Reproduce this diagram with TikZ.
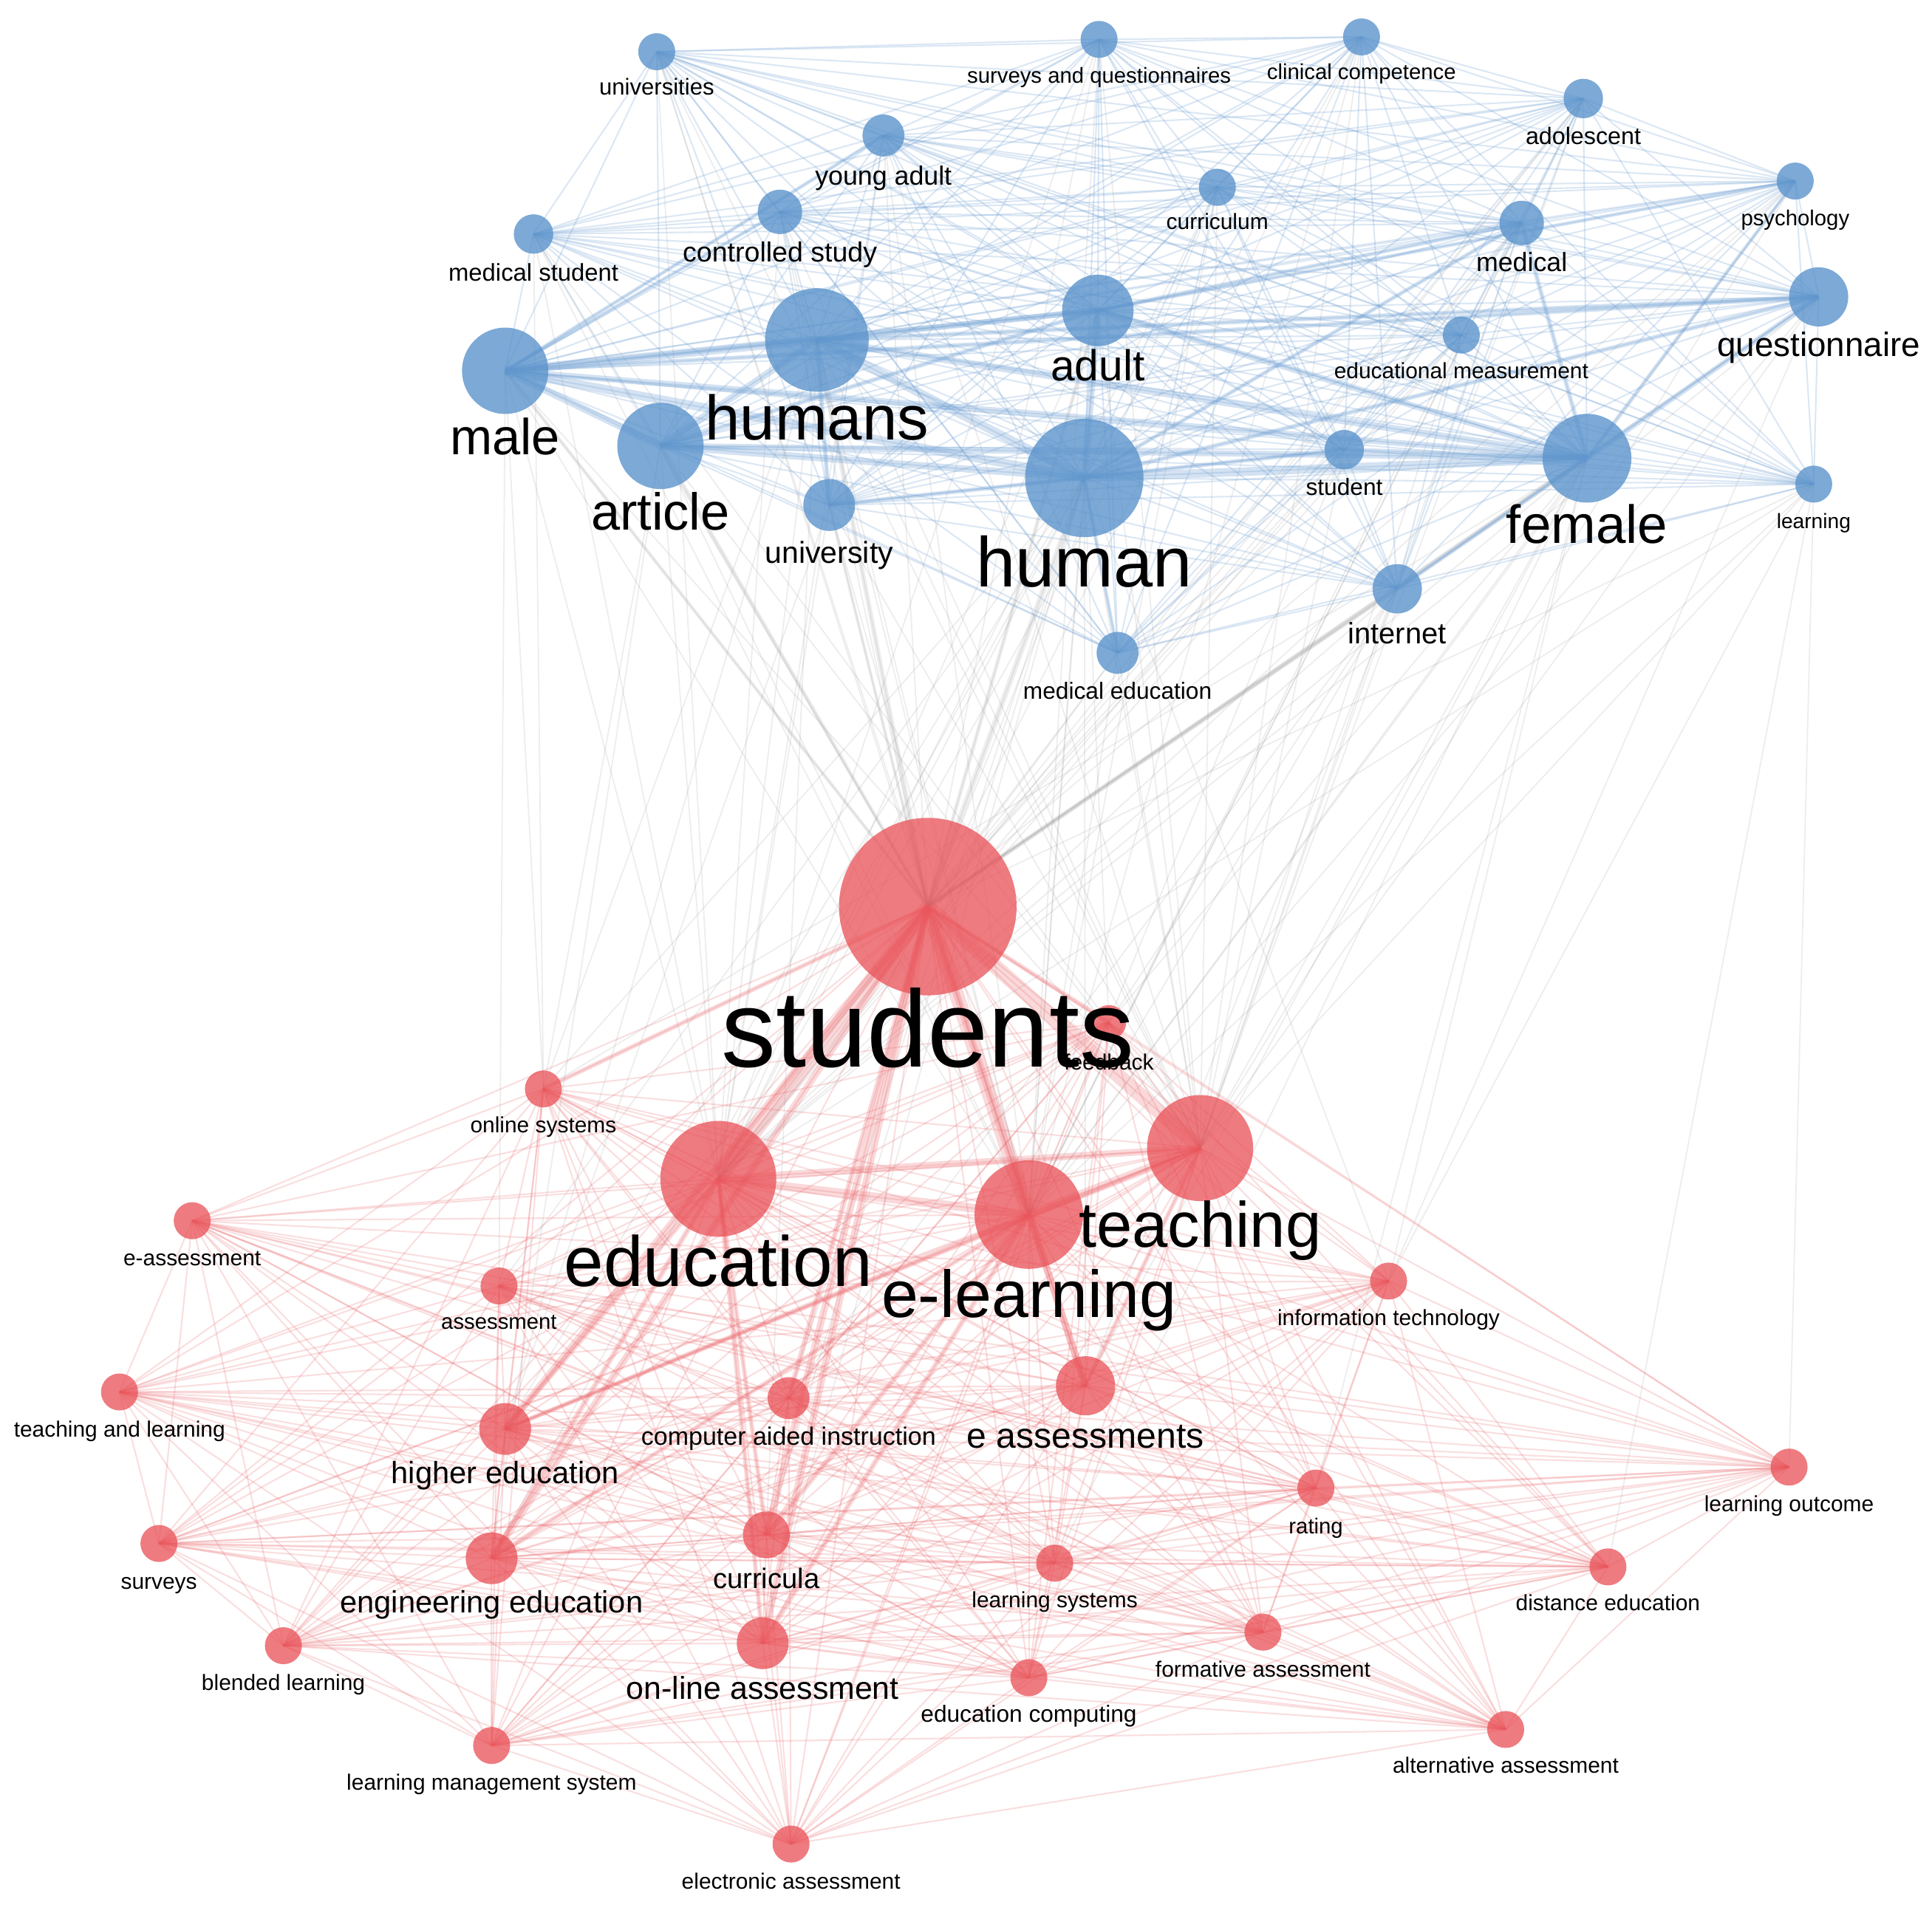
\documentclass[tikz,border=0pt]{standalone}
\usepackage{fontspec}
\setmainfont{Liberation Sans}
\pgfdeclarelayer{edges}
\pgfdeclarelayer{labels}
\pgfsetlayers{edges,main,labels}
\definecolor{nb}{RGB}{92,148,204}
\definecolor{nr}{RGB}{233,80,86}
\definecolor{eb}{RGB}{115,162,212}
\definecolor{er}{RGB}{236,105,110}
\definecolor{eg}{RGB}{150,150,150}
\tikzset{
  bn/.style={circle, inner sep=0pt, fill=nb, fill opacity=0.8, minimum size=#1*0.02cm},
  rn/.style={circle, inner sep=0pt, fill=nr, fill opacity=0.75, minimum size=#1*0.02cm},
  lb/.style={font=\fontsize{#1}{#1}\selectfont, inner sep=0pt, anchor=mid, text=black},
  ls/.style={lb=5.1pt},
  be/.style={draw=eb, line width=0.35pt, draw opacity=0.25},
  bt/.style={draw=eb, line width=#1, draw opacity=0.3},
  re/.style={draw=er, line width=0.35pt, draw opacity=0.22},
  rt/.style={draw=er, line width=#1, draw opacity=0.25},
  ge/.style={draw=eg, line width=0.3pt, draw opacity=0.17},
  gt/.style={draw=eg, line width=#1, draw opacity=0.16},
}
\begin{document}
\begin{tikzpicture}[x=0.01cm, y=-0.01cm]
\begin{pgfonlayer}{edges}
\fill[white] (0,0) rectangle (1568,1555);
\end{pgfonlayer}
\useasboundingbox (0,0) rectangle (1568,1555);
% ---------- blue nodes ----------
\node[bn=15] (univs) at (533,42) {};
\node[bn=15] (surv) at (892,32) {};
\node[bn=15] (clin) at (1105,30) {};
\node[bn=16] (adol) at (1285,80) {};
\node[bn=17] (yadult) at (717,110) {};
\node[bn=15] (psych) at (1457,147) {};
\node[bn=15] (curric) at (988,152) {};
\node[bn=18] (ctrl) at (633,172) {};
\node[bn=16] (medstu) at (433,190) {};
\node[bn=18] (medical) at (1235,181) {};
\node[bn=24] (quest) at (1476,241) {};
\node[bn=29] (adult) at (891,252) {};
\node[bn=15] (edmeas) at (1186,272) {};
\node[bn=42] (humans) at (663,276) {};
\node[bn=35] (male) at (410,301) {};
\node[bn=35] (article) at (536,362) {};
\node[bn=48] (human) at (880,388) {};
\node[bn=16] (student) at (1091,365) {};
\node[bn=36] (female) at (1288,372) {};
\node[bn=21] (univ) at (673,410) {};
\node[bn=15] (learning) at (1472,393) {};
\node[bn=20] (internet) at (1134,478) {};
\node[bn=17] (mededu) at (907,530) {};
% ---------- red nodes ----------
\node[rn=72] (students) at (753,736) {};
\node[rn=14] (feedback) at (900,830) {};
\node[rn=15] (online) at (441,884) {};
\node[rn=43] (teaching) at (974,932) {};
\node[rn=47] (education) at (583,957) {};
\node[rn=44] (elearn) at (835,986) {};
\node[rn=15] (eass) at (156,991) {};
\node[rn=15] (infotech) at (1127,1040) {};
\node[rn=15] (assess) at (405,1044) {};
\node[rn=15] (tandl) at (97,1130) {};
\node[rn=24] (eassm) at (881,1125) {};
\node[rn=17] (cai) at (640,1135) {};
\node[rn=21] (highered) at (410,1160) {};
\node[rn=15] (lout) at (1452,1191) {};
\node[rn=15] (rating) at (1068,1208) {};
\node[rn=15] (surveys) at (129,1253) {};
\node[rn=19] (curricula) at (622,1246) {};
\node[rn=21] (engedu) at (399,1265) {};
\node[rn=15] (lsys) at (856,1269) {};
\node[rn=15] (disted) at (1305,1272) {};
\node[rn=15] (formass) at (1025,1325) {};
\node[rn=15] (blended) at (230,1336) {};
\node[rn=21] (olass) at (619,1334) {};
\node[rn=15] (educomp) at (835,1362) {};
\node[rn=15] (altass) at (1222,1404) {};
\node[rn=15] (lms) at (399,1417) {};
\node[rn=15] (elecass) at (642,1497) {};
% ---------- edges ----------
\def\bluelist{univs,surv,clin,adol,yadult,psych,curric,ctrl,medstu,medical,quest,adult,edmeas,humans,male,article,human,student,female,univ,learning,internet,mededu}
\def\redlist{students,feedback,online,teaching,education,elearn,eass,infotech,assess,tandl,eassm,cai,highered,lout,rating,surveys,curricula,engedu,lsys,disted,formass,blended,olass,educomp,altass,lms,elecass}
\begin{pgfonlayer}{edges}
% inter-cluster (gray)
\foreach \a in {students,education,elearn,teaching} {
  \foreach \b in \bluelist {\draw[ge] (\a.center) -- (\b.center);}
}
\foreach \a/\b in {online/male,online/article,online/humans,online/medstu,online/female,online/human,
  infotech/learning,infotech/female,infotech/quest,infotech/human,
  eassm/internet,eassm/human,eassm/female,highered/human,highered/univ,highered/humans,engedu/article,engedu/human,curricula/humans,curricula/human,
  feedback/female,feedback/human,feedback/internet,cai/internet,cai/human,lout/learning,assess/male,assess/human,olass/human,lsys/female,rating/female,disted/learning}
  {\draw[ge] (\a.center) -- (\b.center);}
\foreach \b/\w in {human/1.3pt,humans/1.1pt,female/1.1pt,adult/0.9pt,male/0.8pt,article/0.9pt,internet/0.9pt,univ/0.7pt}
  {\draw[gt=\w] (students.center) -- (\b.center);}
% blue cluster
\foreach \a [count=\i] in \bluelist {
  \foreach \b [count=\j] in \bluelist {
    \ifnum\j>\i \draw[be] (\a.center) -- (\b.center); \fi
  }
}
\foreach \a/\b/\w in {male/humans/2pt,male/human/2pt,male/article/1.6pt,male/adult/1.2pt,male/female/1.4pt,humans/human/2pt,humans/article/1.6pt,humans/adult/1.4pt,humans/female/1.6pt,
  human/article/1.6pt,human/adult/1.6pt,human/female/2pt,adult/female/1.4pt,article/female/1.4pt,article/adult/1pt,female/quest/1.2pt,human/quest/1pt,humans/quest/1pt,male/quest/1pt,
  female/student/1pt,human/student/1pt,female/internet/1pt,human/univ/1pt,humans/univ/1pt,female/medical/1pt,human/medical/0.9pt,adult/medical/0.9pt,male/yadult/0.8pt,male/ctrl/0.8pt,human/mededu/0.8pt,female/psych/0.8pt,adult/psych/0.8pt}
  {\draw[bt=\w] (\a.center) -- (\b.center);}
% red cluster
\foreach \a [count=\i] in \redlist {
  \foreach \b [count=\j] in \redlist {
    \ifnum\j>\i \draw[re] (\a.center) -- (\b.center); \fi
  }
}
\foreach \a/\b/\w in {students/education/3.4pt,students/elearn/3.4pt,students/teaching/3.4pt,students/highered/1.6pt,students/engedu/1.6pt,students/curricula/1.6pt,students/olass/1.6pt,
  students/cai/1.2pt,students/eassm/1.6pt,students/online/1pt,students/feedback/1pt,education/elearn/2pt,education/teaching/1.6pt,elearn/teaching/2pt,education/highered/1.2pt,
  education/engedu/1.2pt,elearn/eassm/1.6pt,elearn/curricula/1.2pt,elearn/olass/1.2pt,teaching/eassm/1pt,education/curricula/1pt,education/olass/1pt,teaching/highered/0.9pt,elearn/highered/1pt,elearn/engedu/1pt}
  {\draw[rt=\w] (\a.center) -- (\b.center);}
\end{pgfonlayer}
% ---------- labels ----------
\begin{pgfonlayer}{labels}
\node[lb=5.3pt] (univs-l) at (533,68) {universities};
\node[lb=5.0pt] (surv-l) at (892,58) {surveys and questionnaires};
\node[lb=5.0pt] (clin-l) at (1105,55) {clinical competence};
\node[lb=5.5pt] (adol-l) at (1285,108) {adolescent};
\node[lb=6.1pt] (yadult-l) at (717,141) {young adult};
\node[lb=5.0pt] (psych-l) at (1457,174) {psychology};
\node[lb=5.1pt] (curric-l) at (988,177) {curriculum};
\node[lb=6.4pt] (ctrl-l) at (633,203) {controlled study};
\node[lb=5.6pt] (medstu-l) at (433,219) {medical student};
\node[lb=6.1pt] (medical-l) at (1235,211) {medical};
\node[lb=7.8pt] (quest-l) at (1476,280) {questionnaire};
\node[lb=10pt] (adult-l) at (891,300) {adult};
\node[lb=5.1pt] (edmeas-l) at (1186,298) {educational measurement};
\node[lb=14.5pt] (humans-l) at (663,348) {humans};
\node[lb=11.7pt] (male-l) at (410,360) {male};
\node[lb=12pt] (article-l) at (536,421) {article};
\node[lb=16.3pt] (human-l) at (880,467) {human};
\node[lb=5.4pt] (student-l) at (1091,393) {student};
\node[lb=12.4pt] (female-l) at (1288,432) {female};
\node[lb=7pt] (univ-l) at (673,448) {university};
\node[lb=4.8pt] (learning-l) at (1472,420) {learning};
\node[lb=6.8pt] (internet-l) at (1134,513) {internet};
\node[lb=5.4pt] (mededu-l) at (907,558) {medical education};
\node[ls] (feedback-l) at (900,859) {feedback};
\node[lb=25.2pt] (students-l) at (753,857) {students};
\node[ls] (online-l) at (441,910) {online systems};
\node[lb=14.8pt] (teaching-l) at (974,1003) {teaching};
\node[lb=16.4pt] (education-l) at (583,1035) {education};
\node[lb=15.3pt] (elearn-l) at (835,1060) {e-learning};
\node[ls] (eass-l) at (156,1018) {e-assessment};
\node[ls] (infotech-l) at (1127,1067) {information technology};
\node[lb=5.0pt] (assess-l) at (405,1070) {assessment};
\node[ls] (tandl-l) at (97,1157) {teaching and learning};
\node[lb=8.2pt] (eassm-l) at (881,1166) {e assessments};
\node[lb=5.8pt] (cai-l) at (640,1164) {computer aided instruction};
\node[lb=7.1pt] (highered-l) at (410,1195) {higher education};
\node[ls] (lout-l) at (1452,1218) {learning outcome};
\node[lb=5.0pt] (rating-l) at (1068,1236) {rating};
\node[ls] (surveys-l) at (129,1281) {surveys};
\node[lb=6.5pt] (curricula-l) at (622,1280) {curricula};
\node[lb=7.1pt] (engedu-l) at (399,1300) {engineering education};
\node[ls] (lsys-l) at (856,1296) {learning systems};
\node[ls] (disted-l) at (1305,1298) {distance education};
\node[ls] (formass-l) at (1025,1352) {formative assessment};
\node[ls] (blended-l) at (230,1363) {blended learning};
\node[lb=7.3pt] (olass-l) at (619,1370) {on-line assessment};
\node[lb=5.4pt] (educomp-l) at (835,1389) {education computing};
\node[ls] (altass-l) at (1222,1430) {alternative assessment};
\node[ls] (lms-l) at (399,1444) {learning management system};
\node[ls] (elecass-l) at (642,1524) {electronic assessment};
\end{pgfonlayer}
\end{tikzpicture}
\end{document}
